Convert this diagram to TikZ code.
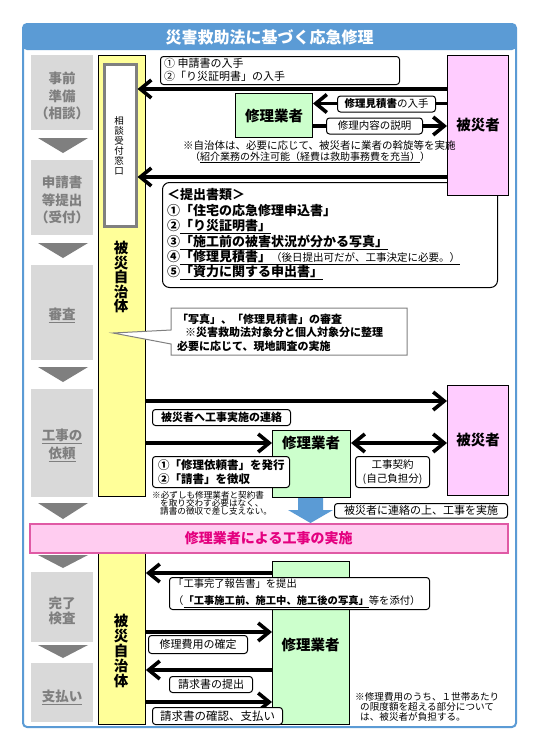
\documentclass[tikz,border=0pt]{standalone}
\usepackage{fontspec}
\setmainfont{Noto Sans CJK JP}
\usetikzlibrary{arrows.meta}
\definecolor{frameblue}{HTML}{5B9BD5}
\definecolor{gboxc}{HTML}{D9D9D9}
\definecolor{gtxt}{HTML}{7F7F7F}
\definecolor{ycol}{HTML}{FFFF99}
\definecolor{pinkbox}{HTML}{FFCCFF}
\definecolor{greenbox}{HTML}{CCFFCC}
\definecolor{bannerfill}{HTML}{FFCCF0}
\definecolor{bannerline}{HTML}{E05AA5}
\definecolor{bannertext}{HTML}{E4007F}
\definecolor{calloutline}{HTML}{808080}
\newcommand\fsz[2]{\fontsize{#1}{#2}\selectfont}
\tikzset{
  gb/.style={fill=gboxc, draw=none, minimum width=62pt, inner sep=0pt},
  gt/.style={text=gtxt, font=\fsz{13.5}{17.5}\bfseries, align=center, inner sep=0pt},
  tri/.style={fill=gtxt},
  ycolumn/.style={fill=ycol, draw=black, line width=0.9pt, inner sep=0pt, anchor=north west},
  victim/.style={fill=pinkbox, draw=black, line width=1pt, inner sep=0pt, anchor=north west, font=\fsz{14.5}{16}\bfseries},
  firm/.style={fill=greenbox, draw=black, line width=1pt, inner sep=0pt, anchor=north west, font=\fsz{14.5}{16}\bfseries},
  lbl/.style={draw=black, fill=white, rounded corners=3pt, line width=1pt, inner sep=0pt, anchor=north west},
  arr/.style={line width=3.6pt, -{Straight Barb[length=11pt,width=18pt]}},
  darr/.style={line width=3.6pt, {Straight Barb[length=11pt,width=18pt]}-{Straight Barb[length=11pt,width=18pt]}},
  note/.style={inner sep=0pt, align=left, anchor=west},
  vtext/.style={inner sep=0pt, align=center},
}
\begin{document}
\begin{tikzpicture}[x=1pt,y=-1pt]
\useasboundingbox (0,0) rectangle (540,750);
\fill[white] (0,0) rectangle (540,750);

% ---------- frame and title ----------
\fill[frameblue, rounded corners=4pt] (23,24) rectangle (516,50);
\draw[frameblue, line width=2pt, rounded corners=4pt] (23,24) rectangle (516,727);
\node[text=white, font=\fsz{16}{18}\bfseries, inner sep=0pt] (title) at (269.5,37.5) {災害救助法に基づく応急修理};

% ---------- left step column ----------
\node[gb, minimum height=75pt] (g1) at (62,92.5) {};
\node[gt] (g1t) at (62,96) {事前\\準備\\（相談）};
\node[gb, minimum height=75pt] (g2) at (62,197.5) {};
\node[gt] (g2t) at (62,200) {申請書\\等提出\\（受付）};
\node[gb, minimum height=95pt] (g3) at (62,312.5) {};
\node[gt] (g3t) at (62,315) {\underline{審査}};
\node[gb, minimum height=108pt] (g4) at (62,443) {};
\node[gt] (g4t) at (62,445.5) {\underline{工事の}\\\underline{依頼}};
\node[gb, minimum height=70pt] (g5) at (62,607) {};
\node[gt, font=\fsz{13.5}{15.5}\bfseries] (g5t) at (62,611) {完了\\検査};
\node[gb, minimum height=59pt] (g6) at (62,692.5) {};
\node[gt] (g6t) at (62,697) {\underline{支払い}};

\fill[tri] (38,138) -- (88,138) -- (63,153) -- cycle;
\fill[tri] (38,243) -- (88,243) -- (63,258) -- cycle;
\fill[tri] (38,367) -- (88,367) -- (63,382) -- cycle;
\fill[tri] (38,503) -- (88,503) -- (63,519) -- cycle;
\fill[tri] (38,555) -- (88,555) -- (63,568) -- cycle;
\fill[tri] (38,645) -- (88,645) -- (63,658) -- cycle;

% ---------- municipality columns ----------
\node[ycolumn, minimum width=47pt, minimum height=441pt] (y1) at (98,55) {};
\node[fill=white, draw=calloutline, line width=2.5pt, inner sep=0pt, anchor=north west,
      minimum width=32pt, minimum height=162pt] (soudan) at (103,63) {};
\node[vtext, font=\fsz{9.5}{10}, anchor=north] (soudant) at (119,116) {相\\談\\受\\付\\窓\\口};
\node[vtext, font=\fsz{14.5}{14.5}\bfseries] (y1t) at (121,277) {被\\災\\自\\治\\体};
\node[ycolumn, minimum width=47pt, minimum height=171pt] (y2) at (98,553) {};
\node[vtext, font=\fsz{14.5}{15}\bfseries] (y2t) at (121,651) {被\\災\\自\\治\\体};

% ---------- documents box ----------
\node[draw=black, fill=white, rounded corners=7pt, line width=1pt, inner sep=0pt, anchor=north west,
      minimum width=335pt, minimum height=105pt] (docs) at (162,182) {};
\node[note, font=\fsz{13}{15.4}\bfseries] (docst) at (167,234.5)
  {＜提出書類＞\\①「住宅の応急修理申込書」\\②\underline{「り災証明書」}\\③\underline{「施工前の被害状況が分かる写真」}\\④\underline{「修理見積書」}{\mdseries\fsz{10.5}{15.4}\underline{（後日提出可だが、工事決定に必要。）}}\\⑤\underline{「資力に関する申出書」}};

% ---------- victims and contractors ----------
\node[victim, minimum width=61pt, minimum height=140pt] (h1) at (447,55) {被災者};
\node[victim, minimum width=61pt, minimum height=110pt] (h2) at (447,385) {被災者};
\node[firm, minimum width=77pt, minimum height=44pt] (s1) at (235,93) {修理業者};
\node[firm, minimum width=78pt, minimum height=67pt] (s2) at (272,430) {};
\node[inner sep=0pt, font=\fsz{14.5}{16}\bfseries] (s2t) at (311,443) {修理業者};
\node[firm, minimum width=77pt, minimum height=163pt] (s3) at (272,561) {};
\node[inner sep=0pt, font=\fsz{14.5}{16}\bfseries] (s3t) at (310.5,645) {修理業者};

% ---------- arrow levels ----------
\coordinate (ya1) at (0,89);
\coordinate (ya2) at (0,103.5);
\coordinate (ya3) at (0,126);
\coordinate (ya4) at (0,177);
\coordinate (yb1) at (0,401);
\coordinate (yb2) at (0,443);
\coordinate (yc1) at (0,573);
\coordinate (yc2) at (0,632);
\coordinate (yc3) at (0,670);
\coordinate (yc4) at (0,702);

\draw[arr] (h1.west |- ya1) -- (soudan.east |- ya1);
\draw[arr] (h1.west |- ya2) -- (s1.east |- ya2);
\draw[arr] (s1.east |- ya3) -- (h1.west |- ya3);
\draw[arr] (h1.west |- ya4) -- (soudan.east |- ya4);

\draw[arr] (y1.east |- yb1) -- (h2.west |- yb1);
\draw[arr] (y1.east |- yb2) -- (s2.west |- yb2);
\draw[darr] (s2.east |- yb2) -- (h2.west |- yb2);

\draw[arr] (s3.west |- yc1) -- (y2.east |- yc1);
\draw[arr] (y2.east |- yc2) -- (s3.west |- yc2);
\draw[arr] (s3.west |- yc3) -- (y2.east |- yc3);
\draw[arr] (y2.east |- yc4) -- (s3.west |- yc4);

% ---------- labels section 1 ----------
\node[lbl, minimum width=239pt, minimum height=28pt] (L1) at (160,56) {};
\node[note, font=\fsz{11}{12.5}] (L1t) at (164,70) {① 申請書の入手\\②「り災証明書」の入手};
\node[lbl, minimum width=98pt, minimum height=16pt, font=\fsz{10.5}{12}] (L2) at (337,95.5) {\textbf{修理見積書}の入手};
\node[lbl, minimum width=96pt, minimum height=16pt, font=\fsz{10.5}{12}] (L3) at (326,117.5) {修理内容の説明};
\node[note, font=\fsz{10.5}{12}] (N1) at (183,146) {※自治体は、必要に応じて、被災者に業者の斡旋等を実施};
\node[note, font=\fsz{10}{12}] (N2) at (190,157.5) {（\underline{紹介業務の外注可能（経費は救助事務費を充当）}）};

% ---------- review callout ----------
\draw[calloutline, fill=white, line width=1pt] (171,308) -- (407,308) -- (407,355) -- (171,355) -- (171,344) -- (113,333) -- (171,330) -- cycle;
\node[note, font=\fsz{11}{13.5}\bfseries] (Ct) at (177,332.5) {「写真」、「修理見積書」の審査\\\hspace*{8pt}※災害救助法対象分と個人対象分に整理\\必要に応じて、現地調査の実施};

% ---------- labels section 4 ----------
\node[lbl, minimum width=138pt, minimum height=16pt, font=\fsz{11}{12}\bfseries] (L4) at (152,409) {被災者へ工事実施の連絡};
\node[lbl, minimum width=137pt, minimum height=31pt] (L5) at (152,456) {};
\node[note, font=\fsz{11.5}{14}\bfseries] (L5t) at (158,472) {①「修理依頼書」を発行\\②「請書」を徴収};
\node[lbl, minimum width=74pt, minimum height=31pt, font=\fsz{10.5}{14}, align=center] (L6) at (355,456) {工事契約\\(自己負担分)};
\node[note, font=\fsz{8.6}{8.2}] (N3) at (152,503) {※必ずしも修理業者と契約書\\\hspace*{8pt}を取り交わす必要はなく、\\\hspace*{8pt}請書の徴収で差し支えない。};
\fill[frameblue] (298,498) -- (323,498) -- (323,510) -- (333,510) -- (310.5,523) -- (288,510) -- (298,510) -- cycle;
\node[lbl, minimum width=173pt, minimum height=14.5pt, font=\fsz{11}{12}] (L7) at (334,503) {被災者に連絡の上、工事を実施};

% ---------- banner ----------
\node[fill=bannerfill, draw=bannerline, line width=1.5pt, inner sep=0pt, anchor=north west,
      minimum width=478pt, minimum height=29pt, text=bannertext, font=\fsz{14}{16}\bfseries] (banner) at (29,523) {修理業者による工事の実施};

% ---------- labels section 5/6 ----------
\node[lbl, minimum width=260pt, minimum height=32pt] (L8) at (169,577) {};
\node[note, font=\fsz{10.3}{17}] (L8t) at (173,593.5) {「工事完了報告書」を提出\\（\underline{\textbf{「工事施工前、施工中、施工後の写真」}}等を添付）};
\node[lbl, minimum width=99pt, minimum height=18pt, font=\fsz{11}{12}] (L9) at (148,635) {修理費用の確定};
\node[lbl, minimum width=83pt, minimum height=16pt, font=\fsz{11}{12}] (L10) at (169,676) {請求書の提出};
\node[lbl, minimum width=130pt, minimum height=17pt, font=\fsz{11.5}{12}] (L11) at (152,707) {請求書の確認、支払い};
\node[note, font=\fsz{9.6}{8.5}] (N4) at (355,707) {※修理費用のうち、１世帯あたり\\\hspace*{5pt}の限度額を超える部分について\\\hspace*{5pt}は、被災者が負担する。};
\end{tikzpicture}
\end{document}
